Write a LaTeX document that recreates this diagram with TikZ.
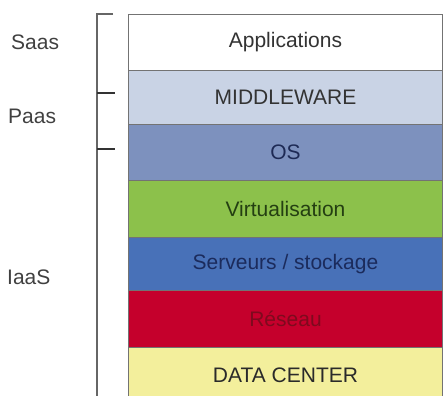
\documentclass[tikz,border=0pt]{standalone}
\usepackage{fontspec}
\setmainfont{Liberation Sans}
\definecolor{mwfill}{HTML}{C9D3E5}
\definecolor{osfill}{HTML}{7D91BE}
\definecolor{virtfill}{HTML}{8CC14B}
\definecolor{servfill}{HTML}{4871B8}
\definecolor{resfill}{HTML}{C5002C}
\definecolor{dcfill}{HTML}{F3EF9C}
\definecolor{ostext}{HTML}{1E2A55}
\definecolor{virttext}{HTML}{243F12}
\definecolor{servtext}{HTML}{1B2B5C}
\definecolor{restext}{HTML}{7E0A1E}
\definecolor{dctext}{HTML}{2A2A2A}
\definecolor{brk}{HTML}{666666}
\begin{document}
\begin{tikzpicture}[x=1pt,y=-1pt,
  layer/.style={draw=black!55, line width=1pt, anchor=north west, minimum width=314pt,
    inner sep=0pt, font=\fontsize{21}{24}\selectfont},
  side/.style={font=\fontsize{21}{24}\selectfont, text=black!75, anchor=west, inner sep=0pt},
  brkline/.style={draw=brk, line width=1.6pt}]
\useasboundingbox (0,0) rectangle (443,395);
\node[layer, fill=white, minimum height=56pt, text=black!80] (app) at (128,14) {Applications};
\node[layer, fill=mwfill, minimum height=54pt, text=black!80] (mw) at (128,70) {MIDDLEWARE};
\node[layer, fill=osfill, minimum height=56pt, text=ostext] (os) at (128,124) {OS};
\node[layer, fill=virtfill, minimum height=57pt, text=virttext] (virt) at (128,180) {Virtualisation};
\node[layer, fill=servfill, minimum height=53pt, text=servtext] (serv) at (128,237) {Serveurs / stockage};
\node[layer, fill=resfill, minimum height=57pt, text=restext] (res) at (128,290) {Réseau};
\node[layer, fill=dcfill, minimum height=56pt, text=dctext] (dc) at (128,347) {DATA CENTER};
% bracket
\coordinate (bt) at (97,14);
\coordinate (btr) at (113,14);
\coordinate (bb) at (97,400);
\coordinate (t1) at (97,93);
\coordinate (t1r) at (115,93);
\coordinate (t2) at (97,149);
\coordinate (t2r) at (115,149);
\draw[brkline] (btr) -- (bt) -- (bb);
\draw[draw=black!80, line width=1.6pt] (t1) -- (t1r);
\draw[draw=black!80, line width=1.6pt] (t2) -- (t2r);
% side labels
\node[side] (saas) at (11,42) {Saas};
\node[side] (paas) at (8,116) {Paas};
\node[side] (iaas) at (7,277) {IaaS};
\end{tikzpicture}
\end{document}
